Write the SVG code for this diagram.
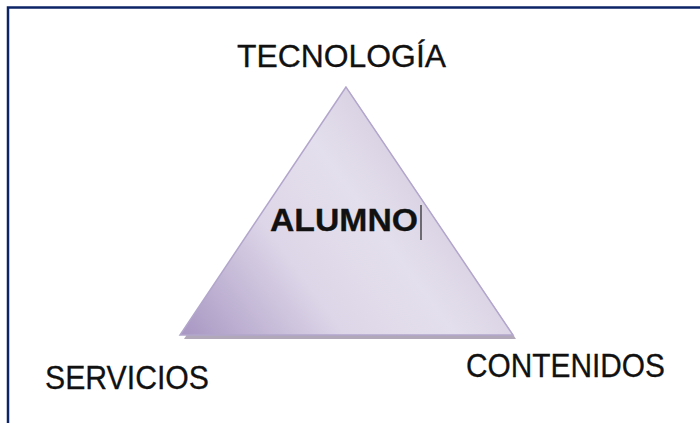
<svg xmlns="http://www.w3.org/2000/svg" width="700" height="423" viewBox="0 0 700 423">
<defs>
<linearGradient id="g" x1="180" y1="335" x2="420" y2="160" gradientUnits="userSpaceOnUse">
<stop offset="0" stop-color="#a796c2"/>
<stop offset="0.45" stop-color="#ddd6e8"/>
<stop offset="0.75" stop-color="#e4dfec"/>
<stop offset="1" stop-color="#d6cfe2"/>
</linearGradient>
<style>
.lbl{font-family:"Liberation Sans","DejaVu Sans",sans-serif;fill:#111;stroke:#111;stroke-width:0.3;}
</style>
</defs>
<rect width="700" height="423" fill="#fff"/>
<path d="M8 423 V7.5 H700" fill="none" stroke="#0d2466" stroke-width="2.5"/>
<g id="triangle">
<polygon points="349,91 184,339 516,339" fill="#9d93a8" opacity="0.8"/>
<polygon points="346,87 180,335 513,335" fill="url(#g)" stroke="#b3a6cc" stroke-width="1.5"/>
<text class="lbl" x="270" y="231" font-size="31" font-weight="bold" textLength="148" lengthAdjust="spacingAndGlyphs">ALUMNO</text>
<line x1="421" y1="205" x2="421" y2="240" stroke="#222" stroke-width="1.2"/>
</g>
<g id="tecnologia"><text class="lbl" x="237" y="67" font-size="32" textLength="209" lengthAdjust="spacingAndGlyphs">TECNOLOGÍA</text></g>
<g id="servicios"><text class="lbl" x="45" y="389" font-size="34" textLength="164" lengthAdjust="spacingAndGlyphs">SERVICIOS</text></g>
<g id="contenidos"><text class="lbl" x="466" y="377" font-size="33" textLength="199" lengthAdjust="spacingAndGlyphs">CONTENIDOS</text></g>
<g id="connectors"></g>
</svg>
